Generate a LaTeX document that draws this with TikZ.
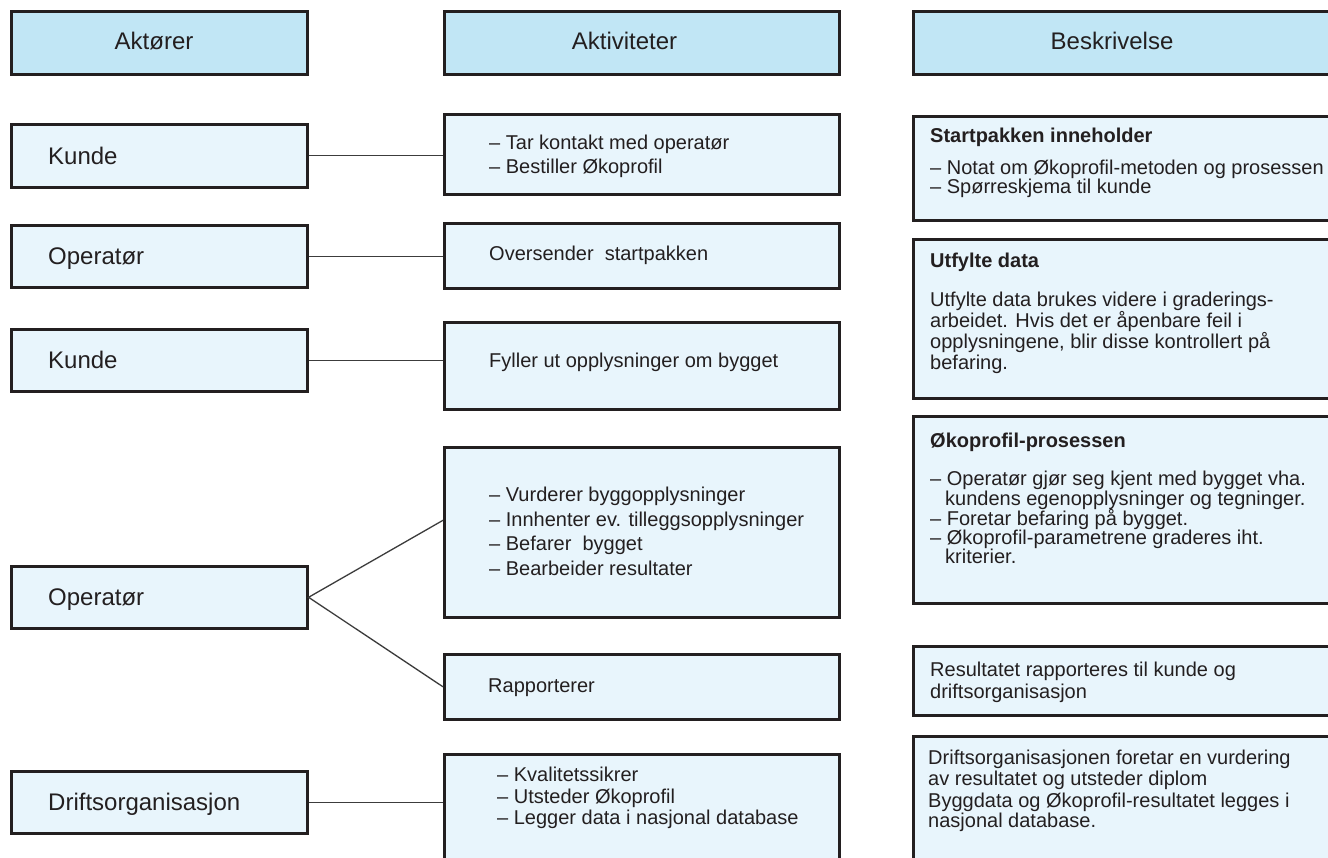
\documentclass[tikz,border=0pt]{standalone}
\usepackage{fontspec}
\setmainfont{Liberation Sans}
\usetikzlibrary{calc}
\definecolor{hdrfill}{RGB}{193,230,245}
\definecolor{boxfill}{RGB}{232,245,252}
\definecolor{edge}{RGB}{35,31,32}
\definecolor{ink}{RGB}{35,31,32}
\definecolor{wirecol}{RGB}{60,60,60}
\tikzset{
  frame/.style={draw=edge, line width=2.6pt, rectangle, inner sep=0pt, anchor=north west},
  hdr/.style={frame, fill=hdrfill, minimum height=63pt},
  cell/.style={frame, fill=boxfill},
  lcell/.style={cell, minimum width=296pt, minimum height=62pt},
  mcell/.style={cell, minimum width=395pt},
  rcell/.style={cell, minimum width=430pt},
  big/.style={text=ink, font=\fontsize{24}{28}\selectfont, inner sep=0pt},
  txt/.style={text=ink, font=\fontsize{20}{24}\selectfont, inner sep=0pt, anchor=base west},
  ttl/.style={txt, font=\fontsize{20}{24}\selectfont\bfseries},
  wire/.style={draw=wirecol, line width=1.3pt},
}
\begin{document}
\begin{tikzpicture}[x=1pt,y=-1pt]
\useasboundingbox (0,0) rectangle (1328,858);
\clip (0,0) rectangle (1328,858);
\fill[white] (0,0) rectangle (1328,858);

% headers
\node[hdr, minimum width=296pt] (hA) at (10,10) {};
\node[hdr, minimum width=395pt] (hB) at (443,10) {};
\node[hdr, minimum width=430pt] (hC) at (912,10) {};
\node[big, anchor=base] (hAt) at (154,50) {Aktører};
\node[big, anchor=base] (hBt) at (624.5,50) {Aktiviteter};
\node[big, anchor=base] (hCt) at (1112,50) {Beskrivelse};

% actors
\node[lcell, minimum height=63pt] (k1) at (10,123) {};
\node[lcell] (o2) at (10,224) {};
\node[lcell] (k3) at (10,328) {};
\node[lcell] (o4) at (10,565) {};
\node[lcell] (d5) at (10,770) {};
\node[big, anchor=base west] (k1t) at ($(k1.west)+(38,8.6)$) {Kunde};
\node[big, anchor=base west] (o2t) at ($(o2.west)+(38,8.6)$) {Operatør};
\node[big, anchor=base west] (k3t) at ($(k3.west)+(38,8.6)$) {Kunde};
\node[big, anchor=base west] (o4t) at ($(o4.west)+(38,8.6)$) {Operatør};
\node[big, anchor=base west] (d5t) at ($(d5.west)+(38,8.6)$) {Driftsorganisasjon};

% activities
\node[mcell, minimum height=80pt] (m1) at (443,113) {};
\node[mcell, minimum height=65pt] (m2) at (443,222) {};
\node[mcell, minimum height=87pt] (m3) at (443,321) {};
\node[mcell, minimum height=170pt] (m4) at (443,446) {};
\node[mcell, minimum height=65pt] (m5) at (443,653) {};
\node[mcell, minimum height=120pt] (m6) at (443,753) {};

\node[txt] (m1a) at (489,150) {– Tar kontakt med operatør};
\node[txt] (m1b) at (489,174) {– Bestiller Økoprofil};
\node[txt] (m2a) at (489,261) {Oversender\ \ startpakken};
\node[txt] (m3a) at (489,368) {Fyller ut opplysninger om bygget};
\node[txt] (m4a) at (489,501) {– Vurderer byggopplysninger};
\node[txt] (m4b) at (489,526) {– Innhenter ev. tilleggsopplysninger};
\node[txt] (m4c) at (489,550) {– Befarer\ \ bygget};
\node[txt] (m4d) at (489,575) {– Bearbeider resultater};
\node[txt] (m5a) at (488,692) {Rapporterer};
\node[txt] (m6a) at (497,781) {– Kvalitetssikrer};
\node[txt] (m6b) at (497,803) {– Utsteder Økoprofil};
\node[txt] (m6c) at (497,824) {– Legger data i nasjonal database};

% descriptions
\node[rcell, minimum height=104pt] (r1) at (912,115) {};
\node[rcell, minimum height=159pt] (r2) at (912,238) {};
\node[rcell, minimum height=187pt] (r3) at (912,415) {};
\node[rcell, minimum height=69pt] (r4) at (912,645) {};
\node[rcell, minimum height=130pt] (r5) at (912,735) {};

\node[ttl] (r1t) at (930,143) {Startpakken inneholder};
\node[txt] (r1a) at (930,175) {– Notat om Økoprofil-metoden og prosessen};
\node[txt] (r1b) at (930,194) {– Spørreskjema til kunde};

\node[ttl] (r2t) at (930,268) {Utfylte data};
\node[txt] (r2a) at (930,307) {Utfylte data brukes videre i graderings-};
\node[txt] (r2b) at (930,328) {arbeidet. Hvis det er åpenbare feil i};
\node[txt] (r2c) at (930,349) {opplysningene, blir disse kontrollert på};
\node[txt] (r2d) at (930,370) {befaring.};

\node[ttl] (r3t) at (930,447) {Økoprofil-prosessen};
\node[txt] (r3a) at (930,485) {– Operatør gjør seg kjent med bygget vha.};
\node[txt] (r3b) at (945,505) {kundens egenopplysninger og tegninger.};
\node[txt] (r3c) at (930,525) {– Foretar befaring på bygget.};
\node[txt] (r3d) at (930,544) {– Økoprofil-parametrene graderes iht.};
\node[txt] (r3e) at (945,563) {kriterier.};

\node[txt] (r4a) at (930,676) {Resultatet rapporteres til kunde og};
\node[txt] (r4b) at (930,698) {driftsorganisasjon};

\node[txt] (r5a) at (928,764) {Driftsorganisasjonen foretar en vurdering};
\node[txt] (r5b) at (928,785) {av resultatet og utsteder diplom};
\node[txt] (r5c) at (928,807) {Byggdata og Økoprofil-resultatet legges i};
\node[txt] (r5d) at (928,827) {nasjonal database.};

% connectors
\coordinate (m4in) at ($(m4.west)+(0,-12)$);
\draw[wire] (k1.east) -- (k1.east -| m1.west);
\draw[wire] (o2.east) -- (o2.east -| m2.west);
\draw[wire] (k3.east) -- (k3.east -| m3.west);
\draw[wire] (m4in) -- (o4.east) -- (m5.west);
\draw[wire] (d5.east) -- (d5.east -| m6.west);
\end{tikzpicture}
\end{document}
